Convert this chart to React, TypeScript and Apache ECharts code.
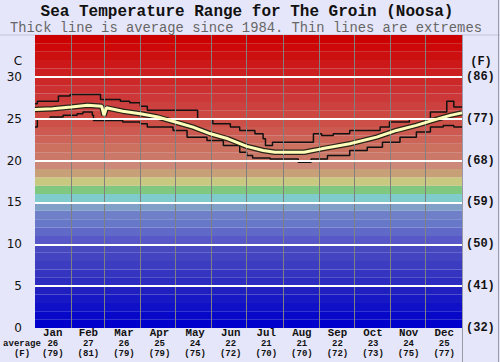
import React, { useEffect, useRef } from 'react';
import * as echarts from 'echarts';

const months = ['Jan', 'Feb', 'Mar', 'Apr', 'May', 'Jun', 'Jul', 'Aug', 'Sep', 'Oct', 'Nov', 'Dec'];
const avgC = [26, 27, 26, 25, 24, 22, 21, 21, 22, 23, 24, 25];
const avgF = [79, 81, 79, 79, 75, 72, 70, 70, 72, 73, 75, 77];
const monthStartDays = [31, 59, 90, 120, 151, 181, 212, 243, 273, 304, 334];
const yTicks = [5, 10, 15, 20, 25, 30];

const avgDays = [0, 15, 31, 45, 57, 59, 61, 75, 90, 105, 120, 135, 150, 165, 181, 195, 205, 230, 245, 269, 292, 309, 326, 340, 355, 365];
const avgTemps = [26.1, 26.2, 26.4, 26.6, 26.5, 25.4, 26.3, 25.9, 25.6, 25.2, 24.6, 24.0, 23.2, 22.6, 21.7, 21.2, 21.0, 21.0, 21.4, 22.0, 22.8, 23.6, 24.2, 24.8, 25.4, 25.7];

const maxDays = [0, 2, 20, 30, 56, 73, 81, 90, 96, 139, 152, 167, 175, 188, 195, 197, 203, 238, 245, 255, 269, 295, 303, 320, 338, 352, 358, 365];
const maxTemps = [26.8, 27.1, 27.7, 27.9, 27.3, 27.1, 26.9, 26.5, 26.0, 25.0, 24.4, 24.0, 23.6, 23.2, 22.6, 21.8, 22.2, 23.2, 23.0, 23.2, 23.6, 24.0, 24.6, 25.0, 25.8, 27.1, 26.4, 26.4];

const minDays = [0, 2, 13, 24, 36, 41, 49, 50, 75, 90, 96, 118, 130, 147, 161, 175, 181, 186, 201, 225, 236, 250, 269, 284, 297, 312, 326, 338, 349, 358, 365];
const minTemps = [24.0, 25.0, 25.2, 25.4, 25.6, 25.8, 25.4, 24.8, 24.6, 24.4, 24.0, 23.6, 22.8, 22.4, 21.8, 21.0, 20.6, 20.3, 20.2, 19.8, 20.2, 20.6, 21.2, 21.6, 22.2, 22.8, 23.4, 24.0, 24.2, 24.0, 24.0];

// colour of each 1 degree band, index = lower bound (0..34)
const bandColors = [
  '#0000cc', '#0808c8', '#1010c8', '#1818c4', '#2020c0', '#2c2cc0', '#3434c0', '#3c3cc0', '#4444c0', '#4848c0',
  '#5858c8', '#6068c8', '#6878c8', '#7080c8', '#80a0c8', '#80cccc', '#80c880', '#c8c880', '#c8a078', '#cc8878',
  '#cc7868', '#cc7060', '#cc6458', '#cc5a50', '#cc5048', '#cc4840', '#cc4040', '#cc3838', '#cc3030', '#cc2828',
  '#cc2020', '#cc1818', '#cc1010', '#cc0808', '#cc0000',
];

const mono = 'Liberation Mono, Courier New, monospace';

export default function App() {
  const ref = useRef<HTMLDivElement>(null);
  useEffect(() => {
    const chart = echarts.init(ref.current!, null, { renderer: 'svg' });
    const pairs = (xs: number[], ys: number[]) => xs.map((x, i) => [x, ys[i]]);
    const centered = { textAlign: 'center', textVerticalAlign: 'middle', align: 'center', verticalAlign: 'middle' };
    const labelAxis = (data: string[], margin: number, fontSize: number) => ({
      type: 'category',
      data,
      position: 'bottom',
      boundaryGap: true,
      axisLine: { show: false },
      axisTick: { show: false },
      splitLine: { show: false },
      axisLabel: {
        interval: 0,
        margin,
        verticalAlign: 'middle',
        fontFamily: mono,
        fontWeight: 'bold',
        fontSize,
        lineHeight: fontSize,
        color: '#111',
      },
    });
    chart.setOption({
      animation: false,
      backgroundColor: '#e6e6fa',
      grid: { left: 35, right: 38, top: 35, bottom: 34 },
      xAxis: [
        { type: 'value', min: 0, max: 365, show: false },
        labelAxis(months, 4.5, 10.8),
        labelAxis(avgC.map(String), 15.5, 9),
        labelAxis(avgF.map((f) => `(${f})`), 25.5, 9),
      ],
      yAxis: [
        {
          type: 'value', min: 0, max: 35, interval: 5, position: 'left',
          axisLine: { show: false }, axisTick: { show: false }, splitLine: { show: false },
          axisLabel: {
            formatter: (v: number) => (v === 35 ? '' : String(v)),
            color: '#111', fontFamily: 'DejaVu Sans', fontSize: 12, margin: 13,
          },
        },
        {
          type: 'value', min: 0, max: 35, interval: 5, position: 'right',
          axisLine: { show: false }, axisTick: { show: false }, splitLine: { show: false },
          axisLabel: {
            formatter: (v: number) => (v === 35 ? '' : `(${Math.round((v * 9) / 5 + 32)})`),
            color: '#111', fontFamily: mono, fontWeight: 'bold', fontSize: 12, margin: 4,
          },
        },
      ],
      series: [
        {
          type: 'line', xAxisIndex: 0, yAxisIndex: 0, z: 1,
          data: [[0, 0]], showSymbol: false, lineStyle: { opacity: 0 }, silent: true,
          markArea: {
            silent: true,
            data: bandColors.map((c, i) => [
              { yAxis: i, itemStyle: { color: c, borderWidth: 0 } },
              { yAxis: i + 1 },
            ]),
          },
        },
        {
          type: 'line', xAxisIndex: 0, yAxisIndex: 0, z: 2,
          data: [[0, 0]], showSymbol: false, lineStyle: { opacity: 0 }, silent: true,
          markLine: {
            silent: true, symbol: 'none', label: { show: false },
            data: [
              ...monthStartDays.map((d) => ({ xAxis: d, lineStyle: { color: '#808080', width: 1, type: 'solid', opacity: 1 } })),
              ...yTicks.map((t) => ({ yAxis: t, lineStyle: { color: '#ffffff', width: 2, type: 'solid', opacity: 1 } })),
            ],
          },
        },
        {
          type: 'line', xAxisIndex: 0, yAxisIndex: 0, z: 3, step: 'end',
          data: pairs(maxDays, maxTemps), showSymbol: false, silent: true,
          lineStyle: { color: '#111', width: 1.5 },
        },
        {
          type: 'line', xAxisIndex: 0, yAxisIndex: 0, z: 3, step: 'end',
          data: pairs(minDays, minTemps), showSymbol: false, silent: true,
          lineStyle: { color: '#111', width: 1.5 },
        },
        {
          type: 'line', xAxisIndex: 0, yAxisIndex: 0, z: 4,
          data: pairs(avgDays, avgTemps), showSymbol: false, silent: true,
          lineStyle: { color: '#2a2418', width: 5.5 },
        },
        {
          type: 'line', xAxisIndex: 0, yAxisIndex: 0, z: 5,
          data: pairs(avgDays, avgTemps), showSymbol: false, silent: true,
          lineStyle: { color: '#ffffbb', width: 3 },
        },
      ],
      graphic: [
        { type: 'line', shape: { x1: 0, y1: 35, x2: 500, y2: 35 }, style: { stroke: '#c4c4d8', lineWidth: 1 } },
        { type: 'line', shape: { x1: 462.5, y1: 35, x2: 462.5, y2: 362 }, style: { stroke: '#9a9aa8', lineWidth: 1 } },
        { type: 'line', shape: { x1: 498.5, y1: 0, x2: 498.5, y2: 362 }, style: { stroke: '#9a9aa8', lineWidth: 1 } },
        {
          type: 'text', x: 247, y: 12.3,
          style: { text: 'Sea Temperature Range for The Groin (Noosa)', font: `bold 16px ${mono}`, fill: '#111', ...centered },
        },
        {
          type: 'text', x: 246, y: 28.2,
          style: { text: 'Thick line is average since 1984. Thin lines are extremes', font: `13.8px ${mono}`, fill: '#666', ...centered },
        },
        {
          type: 'text', x: 18, y: 61,
          style: { text: 'C', font: '12px DejaVu Sans', fill: '#111', ...centered },
        },
        {
          type: 'text', x: 481, y: 62,
          style: { text: '(F)', font: `bold 12px ${mono}`, fill: '#111', ...centered },
        },
        {
          type: 'text', x: 22, y: 343.5,
          style: { text: 'average', font: `bold 9px ${mono}`, fill: '#111', ...centered },
        },
        {
          type: 'text', x: 22, y: 353.5,
          style: { text: '(F)', font: `bold 9px ${mono}`, fill: '#111', ...centered },
        },
      ],
    });
    return () => chart.dispose();
  }, []);
  return <div ref={ref} style={{ position: 'fixed', left: 0, top: 0, width: 500, height: 362 }} />;
}
